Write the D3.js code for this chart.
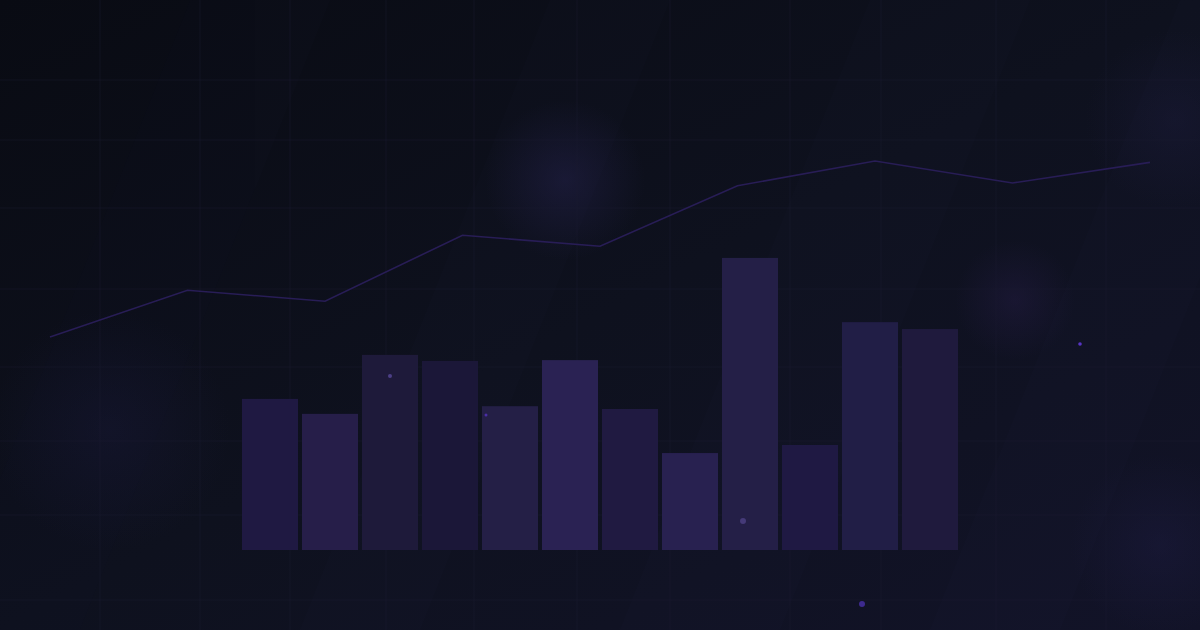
<!DOCTYPE html>
<html>
<head>
<meta charset="utf-8">
<script src="https://cdn.jsdelivr.net/npm/d3@7"></script>
<style>
  html, body { margin: 0; padding: 0; background: #0d0f1a; }
  svg { display: block; }
  .grid line { stroke: #1c1c33; stroke-width: 1; opacity: 0.4; }
  .trend { fill: none; stroke: #281d56; stroke-width: 1.6; }
</style>
</head>
<body>
<svg id="chart" width="1200" height="630"></svg>
<script>
// line series (9 points), bar series (12 bars)
var lineValues = [28, 45, 41, 65, 61, 83, 92, 84, 91.5];
var barValues = [37.4, 33.7, 48.3, 46.8, 35.6, 47, 34.9, 24, 72.3, 26, 56.4, 54.7];
var barColors = ['#1f1942', '#261e49', '#1e1a3a', '#1b1738', '#241f46', '#2a2253',
                 '#201a41', '#282150', '#241f47', '#1f1943', '#211e46', '#1f1a3d'];
var gridX = [100, 200, 290, 386, 474, 577, 670, 790, 881, 996, 1106];
var gridY = [80, 140, 208, 289, 367, 441, 515, 600];
var glows = [
    { x: 565, y: 180, r: 80, c: '#2a2658', o: 0.4 },
    { x: 110, y: 430, r: 120, c: '#1e1d44', o: 0.3 },
    { x: 1015, y: 300, r: 60, c: '#2a1f4e', o: 0.35 },
    { x: 1175, y: 120, r: 90, c: '#211f46', o: 0.3 },
    { x: 1160, y: 545, r: 90, c: '#201e48', o: 0.35 }
];
var dots = [
    { x: 390, y: 376, r: 2, c: '#4c3f86' },
    { x: 486, y: 415, r: 1.5, c: '#4a2ea6' },
    { x: 743, y: 521, r: 3, c: '#453a78' },
    { x: 862, y: 604, r: 3, c: '#3d2a8e' },
    { x: 1080, y: 344, r: 1.8, c: '#5734c4' }
];

var width = 1200, height = 630;
var svg = d3.select('#chart');
var defs = svg.append('defs');

var bg = defs.append('linearGradient')
    .attr('id', 'bg')
    .attr('x1', 0).attr('y1', 0).attr('x2', 1).attr('y2', 1);
bg.append('stop').attr('offset', '0%').attr('stop-color', '#090b13');
bg.append('stop').attr('offset', '50%').attr('stop-color', '#0e111e');
bg.append('stop').attr('offset', '100%').attr('stop-color', '#121328');

glows.forEach(function(g, i) {
    var rg = defs.append('radialGradient').attr('id', 'glow' + i);
    rg.append('stop').attr('offset', '0%').attr('stop-color', g.c).attr('stop-opacity', g.o);
    rg.append('stop').attr('offset', '100%').attr('stop-color', g.c).attr('stop-opacity', 0);
});

// background
svg.append('rect')
    .attr('width', width)
    .attr('height', height)
    .attr('fill', 'url(#bg)');

// very faint diagonal light streaks
var streaks = svg.append('g').attr('opacity', 0.008);
[[-60, 140], [300, 120], [620, 160], [930, 130]].forEach(function(s) {
    streaks.append('polygon')
        .attr('points', [[s[0] + 250, 0], [s[0] + 250 + s[1], 0], [s[0] + s[1], height], [s[0], height]].join(' '))
        .attr('fill', '#8a8cff');
});

// glows
svg.append('g').selectAll('circle')
    .data(glows)
  .enter().append('circle')
    .attr('cx', function(d) { return d.x; })
    .attr('cy', function(d) { return d.y; })
    .attr('r', function(d) { return d.r; })
    .attr('fill', function(d, i) { return 'url(#glow' + i + ')'; });

// grid
var grid = svg.append('g').classed('grid', true);
grid.selectAll('.gx')
    .data(gridX)
  .enter().append('line')
    .attr('x1', function(d) { return d; })
    .attr('x2', function(d) { return d; })
    .attr('y1', 0)
    .attr('y2', height);
grid.selectAll('.gy')
    .data(gridY)
  .enter().append('line')
    .attr('x1', 0)
    .attr('x2', width)
    .attr('y1', function(d) { return d; })
    .attr('y2', function(d) { return d; });

// bars
var x = d3.scaleBand()
    .domain(d3.range(barValues.length))
    .range([242, 958])
    .paddingInner(4 / 60)
    .paddingOuter(0)
    .align(0);
var y = d3.scaleLinear()
    .domain([0, 100])
    .range([550, 146]);

svg.append('g').selectAll('.bar')
    .data(barValues)
  .enter().append('rect')
    .attr('x', function(d, i) { return x(i); })
    .attr('y', function(d) { return y(d); })
    .attr('width', x.bandwidth())
    .attr('height', function(d) { return y(0) - y(d); })
    .attr('fill', function(d, i) { return barColors[i]; });

// trend line
var lx = d3.scaleLinear()
    .domain([0, lineValues.length - 1])
    .range([50, 1150]);
var ly = d3.scaleLinear()
    .domain([0, 100])
    .range([414, 139]);
svg.append('path')
    .datum(lineValues)
    .classed('trend', true)
    .attr('d', d3.line()
        .x(function(d, i) { return lx(i); })
        .y(function(d) { return ly(d); }));

// scattered dots
svg.append('g').selectAll('circle')
    .data(dots)
  .enter().append('circle')
    .attr('cx', function(d) { return d.x; })
    .attr('cy', function(d) { return d.y; })
    .attr('r', function(d) { return d.r; })
    .attr('fill', function(d) { return d.c; });
</script>
</body>
</html>
